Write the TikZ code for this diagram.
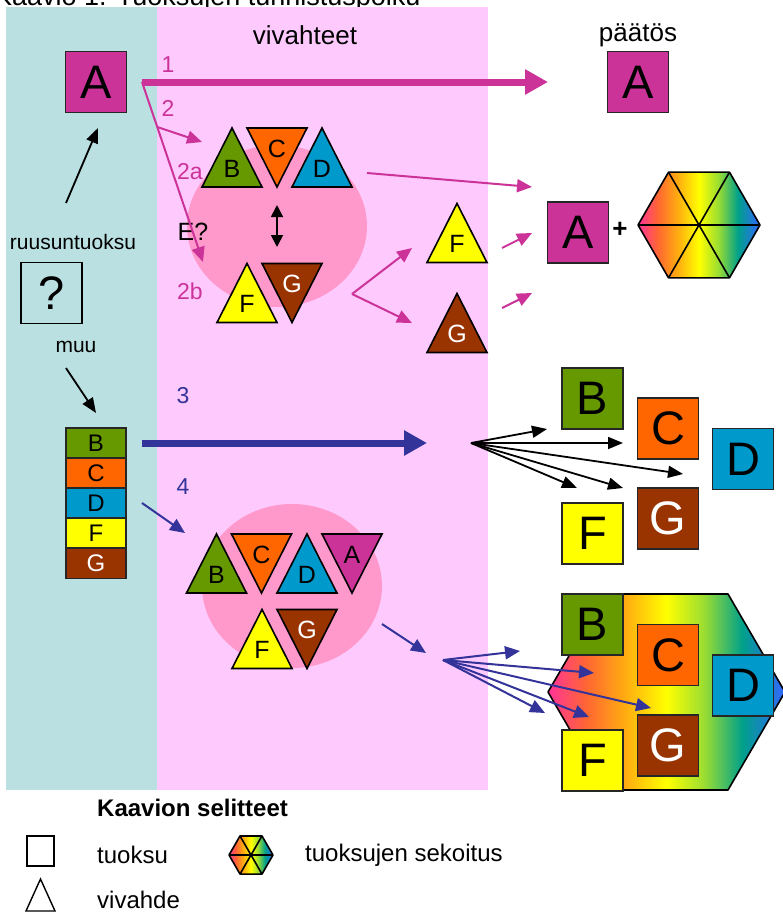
\documentclass[tikz,border=0pt]{standalone}
\usepackage{fontspec}
\setmainfont{Liberation Sans}
\usetikzlibrary{arrows.meta,calc}
\definecolor{tealbg}{HTML}{BAE0E2}
\definecolor{pinkbg}{HTML}{FECAFE}
\definecolor{blob}{HTML}{FF99CC}
\definecolor{cA}{HTML}{CC3399}
\definecolor{cB}{HTML}{669900}
\definecolor{cC}{HTML}{FF6600}
\definecolor{cD}{HTML}{0099CC}
\definecolor{cF}{HTML}{FFFF00}
\definecolor{cG}{HTML}{993300}
\definecolor{navy}{HTML}{333399}
\definecolor{rbA}{HTML}{FF3399}
\definecolor{rbB}{HTML}{FF6633}
\definecolor{rbC}{HTML}{FFAA11}
\definecolor{rbD}{HTML}{FFFF00}
\definecolor{rbE}{HTML}{99DD33}
\definecolor{rbF}{HTML}{00A08A}
\definecolor{rbG}{HTML}{3366FF}
\pgfdeclarehorizontalshading{rainbow}{100bp}{color(0bp)=(rbA); color(25bp)=(rbA); color(33bp)=(rbB); color(41bp)=(rbC); color(50bp)=(rbD); color(58bp)=(rbE); color(66bp)=(rbF); color(75bp)=(rbG); color(100bp)=(rbG)}
\begin{document}
\begin{tikzpicture}[x=1pt,y=-1pt,
  box/.style={draw=black!85, line width=1.6pt, minimum width=61pt, minimum height=61pt, inner sep=0pt, font=\fontsize{47}{47}\selectfont},
  cell/.style={draw=black!85, line width=1.6pt, minimum width=60pt, minimum height=30pt, inner sep=0pt, font=\fontsize{24}{24}\selectfont},
  tri/.style={draw=black, line width=1.6pt, line join=miter},
  trilbl/.style={inner sep=0pt, font=\fontsize{25}{25}\selectfont},
  pics/triup/.style n args={3}{code={
    \draw[tri, fill=#1] (-30,29.5) -- (30,29.5) -- (0,-29.5) -- cycle;
    \node[trilbl, text=#3] (-l) at (0,11) {#2};
  }},
  pics/tridn/.style n args={3}{code={
    \draw[tri, fill=#1] (-30,-29.5) -- (30,-29.5) -- (0,29.5) -- cycle;
    \node[trilbl, text=#3] (-l) at (0,-9) {#2};
  }},
  pics/mixhex/.style={code={
    \shade[shading=rainbow] (0:#1) -- (60:#1) -- (120:#1) -- (180:#1) -- (240:#1) -- (300:#1) -- cycle;
    \draw[line width=1.6pt, line join=round] (0:#1) -- (60:#1) -- (120:#1) -- (180:#1) -- (240:#1) -- (300:#1) -- cycle
      (0:#1) -- (180:#1) (60:#1) -- (240:#1) (120:#1) -- (300:#1);
  }},
  lbl/.style={inner sep=0pt, font=\fontsize{21}{24}\selectfont},
  num/.style={inner sep=0pt, font=\fontsize{23}{26}\selectfont},
  head/.style={inner sep=0pt, font=\fontsize{26}{30}\selectfont},
  leg/.style={inner sep=0pt, anchor=west, font=\fontsize{24}{28}\selectfont},
  thick arrow/.style={line width=7pt, -{Triangle[length=23pt,width=24pt]}},
  thin arrow/.style={line width=2pt, -{Triangle[length=15pt,width=13pt]}},
  black arrow/.style={line width=1.8pt, -{Triangle[length=15pt,width=12pt]}},
]
\useasboundingbox (0,0) rectangle (783,913);
% title (cut off at top)
\node[anchor=base west, inner sep=0pt, font=\fontsize{27}{30}\selectfont] (title) at (-6,5) {Kaavio 1. Tuoksujen tunnistuspolku};
% backgrounds
\fill[tealbg] (6,7) rectangle (157,790);
\fill[pinkbg] (157,7) rectangle (488,790);
\fill[blob] (277,226) ellipse [x radius=90pt, y radius=81pt];
\fill[blob] (292,586) ellipse [x radius=90pt, y radius=82pt];
% headings
\node[head] (hviv) at (305,35) {vivahteet};
\node[head] (hpaat) at (638,35) {päätös};
% left column
\node[box, fill=cA] (A0) at (96,82) {A};
\node[lbl] (ruusu) at (73,242) {ruusuntuoksu};
\node[box, draw=black, fill=none] (Q) at (51.5,293) {?};
\node[lbl] (muu) at (76,347) {muu};
\node[cell, fill=cB] (sB) at (96,443) {B};
\node[cell, fill=cC] (sC) at (96,473) {C};
\node[cell, fill=cD] (sD) at (96,503) {D};
\node[cell, fill=cF] (sF) at (96,533) {F};
\node[cell, fill=cG, text=white] (sG) at (96,563.5) {G};
\coordinate (r0) at (66,203);
\coordinate (r1) at (98,128);
\coordinate (m0) at (66,368);
\coordinate (m1) at (96,413);
\draw[black arrow] (r0) -- (r1);
\draw[black arrow] (m0) -- (m1);
% decision A
\node[box, fill=cA] (A1) at (638,82) {A};
% group 2 triangles
\pic (tB) at (232,157.5) {triup={cB}{B}{black}};
\pic (tC) at (277,157.5) {tridn={cC}{C}{black}};
\pic (tD) at (322,157.5) {triup={cD}{D}{black}};
\pic (tF) at (247,293) {triup={cF}{F}{black}};
\pic (tG) at (292,293) {tridn={cG}{G}{white}};
\pic (tF2) at (457,233) {triup={cF}{F}{black}};
\pic (tG2) at (457,323) {triup={cG}{G}{white}};
\coordinate (dd0) at (277,205);
\coordinate (dd1) at (277,247);
\draw[line width=1.8pt, {Triangle[length=12pt,width=12pt]}-{Triangle[length=12pt,width=12pt]}] (dd0) -- (dd1);
\node[inner sep=0pt, font=\fontsize{25}{28}\selectfont] (E) at (193,232) {E?};
% labels path 1 / 2
\node[num, text=cA] (n1) at (168,65) {1};
\node[num, text=cA] (n2) at (168,108) {2};
\node[num, text=cA] (n2a) at (190,172) {2a};
\node[num, text=cA] (n2b) at (190,291) {2b};
% result A + mix
\node[box, fill=cA] (A2) at (578,232.5) {A};
\node[inner sep=0pt, font=\bfseries\fontsize{26}{26}\selectfont] (plus) at (620,230) {+};
\pic (hex1) at (699,225) {mixhex=61};
% magenta arrows
\coordinate (o1) at (142,82);
\coordinate (e1) at (548,82);
\coordinate (e2) at (203,262);
\coordinate (e2a) at (202,142);
\draw[cA, thick arrow] (o1) -- (e1);
\draw[cA, thin arrow] (o1) -- (e2);
\draw[cA, thin arrow] ($(o1)!0.25!(e2)$) -- (e2a);
\coordinate (p0) at (367,173);
\coordinate (p1) at (532,187);
\draw[cA, thin arrow] (p0) -- (p1);
\coordinate (q0) at (352,294);
\coordinate (qF) at (412,248);
\coordinate (qG) at (412,323);
\draw[cA, thin arrow] (q0) -- (qF);
\draw[cA, thin arrow] (q0) -- (qG);
\coordinate (s0) at (502,248);
\coordinate (s1) at (532,233);
\coordinate (u0) at (502,308);
\coordinate (u1) at (532,293);
\draw[cA, thin arrow] (s0) -- (s1);
\draw[cA, thin arrow] (u0) -- (u1);
% path 3
\node[num, text=navy] (n3) at (183,396) {3};
\coordinate (o3) at (142,443);
\coordinate (e3) at (427,443);
\draw[navy, thick arrow] (o3) -- (e3);
\node[box, fill=cB] (rB) at (592.5,398.5) {B};
\node[box, fill=cC] (rC) at (668,428.5) {C};
\node[box, fill=cD] (rD) at (743,459) {D};
\node[box, fill=cG, text=white] (rG) at (668,518.5) {G};
\node[box, fill=cF] (rF) at (592.5,533.5) {F};
\coordinate (f0) at (471,443);
\coordinate (f1) at (547,429);
\coordinate (f2) at (623,443);
\coordinate (f3) at (683,474);
\coordinate (f4) at (577,488);
\coordinate (f5) at (623,488);
\foreach \t in {f1,f2,f3,f4,f5} \draw[black arrow] (f0) -- (\t);
% path 4
\node[num, text=navy] (n4) at (183,487) {4};
\coordinate (o4) at (142,503);
\coordinate (e4) at (185,533);
\draw[navy, thin arrow] (o4) -- (e4);
\pic (bB) at (216.5,563.5) {triup={cB}{B}{black}};
\pic (bC) at (261.5,563.5) {tridn={cC}{C}{black}};
\pic (bD) at (307,563.5) {triup={cD}{D}{black}};
\pic (bA) at (352,563.5) {tridn={cA}{A}{black}};
\pic (bF) at (262,639) {triup={cF}{F}{black}};
\pic (bG) at (307,639) {tridn={cG}{G}{white}};
\shade[shading=rainbow] (548,692) -- (605,594) -- (728,594) -- (785,692) -- (728,790) -- (605,790) -- cycle;
\draw[line width=1.6pt, line join=round] (548,692) -- (605,594) -- (728,594) -- (785,692) -- (728,790) -- (605,790) -- cycle;
\node[box, fill=cB] (mB) at (592.5,624.5) {B};
\node[box, fill=cC] (mC) at (668,655) {C};
\node[box, fill=cD] (mD) at (743,685.5) {D};
\node[box, fill=cG, text=white] (mG) at (668,745.5) {G};
\node[box, fill=cF] (mF) at (592.5,760.5) {F};
\coordinate (v0) at (382,624);
\coordinate (v1) at (426,653);
\draw[navy, thin arrow] (v0) -- (v1);
\coordinate (g0) at (443,660);
\coordinate (g1) at (520,651);
\coordinate (g2) at (594,673);
\coordinate (g3) at (651,708);
\coordinate (g4) at (589,717);
\coordinate (g5) at (545,713);
\foreach \t in {g1,g2,g3,g4,g5} \draw[navy, thin arrow] (g0) -- (\t);
% legend
\node[leg, font=\bfseries\fontsize{24}{28}\selectfont] (legt) at (97,808) {Kaavion selitteet};
\node[draw, line width=1.4pt, minimum width=27pt, minimum height=30pt, inner sep=0pt] (legsq) at (40.5,851) {};
\node[leg] (legsqt) at (97,855) {tuoksu};
\pic (leghex) at (251,855) {mixhex=22};
\node[leg] (leghext) at (305,855) {tuoksujen sekoitus};
\draw[line width=1.4pt, line join=miter] (26,911) -- (55,911) -- (40.5,879) -- cycle;
\node[leg] (legtrit) at (97,900) {vivahde};
\end{tikzpicture}
\end{document}
